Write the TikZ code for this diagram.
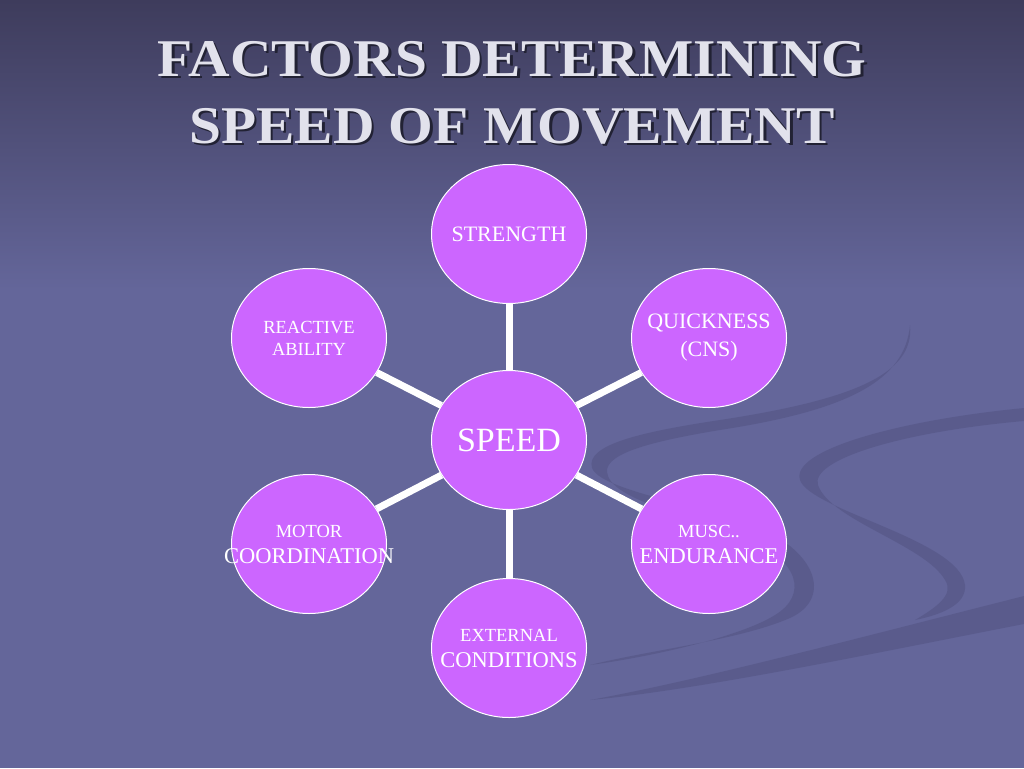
\documentclass[tikz,border=0pt]{standalone}
\usepackage{fontspec}
\setmainfont{Liberation Serif}
\newfontfamily\ttlfont[FakeStretch=1.085]{Liberation Serif}
\usetikzlibrary{shapes.geometric}

\definecolor{bgtop}{RGB}{62,60,92}
\definecolor{bgmain}{RGB}{100,102,154}
\definecolor{swirl}{RGB}{84,85,132}
\definecolor{blob}{RGB}{204,102,255}
\definecolor{ttlgray}{RGB}{226,226,236}
\definecolor{ttldark}{RGB}{34,34,52}

\newcommand{\smtxt}{\fontsize{18.5}{26}\selectfont}
\newcommand{\bigtxt}{\fontsize{22.5}{26}\selectfont}
\newcommand{\ctr}[1]{\makebox[0pt]{#1}}
\newcommand{\shd}[1]{\makebox[0pt][l]{\kern2.5pt\raisebox{-2.5pt}{\color{ttldark}#1}}#1}

\begin{document}
\begin{tikzpicture}[x=1pt, y=-1pt,
    factor/.style={ellipse, draw=white, line width=1pt, fill=blob, text=white, minimum width=155pt, minimum height=139pt, inner sep=0pt, align=center},
    spoke/.style={white, line width=7pt},
    band/.style={fill=swirl, opacity=0.6},
    ttl/.style={align=center, text=ttlgray, font=\ttlfont\bfseries\fontsize{53}{67}\selectfont}]
    %Background
    \fill[bgmain] (0, 0) rectangle (1024, 768);
    \shade[top color=bgtop, bottom color=bgmain] (0, 0) rectangle (1024, 290);
    \useasboundingbox (0, 0) rectangle (1024, 768);
    \fill[band] (910, 325) .. controls (915, 375) and (850, 400) .. (720, 420) .. controls (640, 432) and (585, 445) .. (592, 468) .. controls (600, 490) and (700, 505) .. (760, 528) .. controls (820, 555) and (830, 600) .. (790, 618) .. controls (740, 640) and (650, 650) .. (590, 665) .. controls (650, 657) and (740, 637) .. (775, 615) .. controls (808, 595) and (800, 560) .. (745, 538) .. controls (690, 515) and (610, 500) .. (607, 472) .. controls (605, 452) and (660, 440) .. (720, 430) .. controls (850, 410) and (905, 380) .. (910, 325) -- cycle;
    \fill[band] (1024, 408) .. controls (900, 420) and (790, 450) .. (800, 480) .. controls (810, 510) and (960, 540) .. (965, 585) .. controls (967, 605) and (940, 615) .. (915, 620) .. controls (935, 608) and (955, 595) .. (945, 580) .. controls (925, 545) and (830, 520) .. (818, 485) .. controls (810, 460) and (900, 432) .. (1024, 421) -- cycle;
    \fill[band] (1024, 596) .. controls (850, 640) and (700, 680) .. (590, 700) .. controls (700, 690) and (880, 652) .. (1024, 624) -- cycle;

    %Title
    \node[ttl] at (512, 94) (ttltext) {\shd{FACTORS DETERMINING}\\\shd{SPEED OF MOVEMENT}};

    %Nodes
    \node[factor, font=\fontsize{34}{40}\selectfont] at (509, 440) (speed) {\ctr{SPEED}};
    \node[factor, font=\fontsize{22}{28}\selectfont] at (509, 234) (strength) {\ctr{STRENGTH}};
    \node[factor, font=\fontsize{18.5}{22}\selectfont] at (309, 338) (reactive) {\ctr{REACTIVE}\\\ctr{ABILITY}};
    \node[factor, font=\fontsize{22}{28}\selectfont] at (709, 338) (quick) {\ctr{QUICKNESS}\\\ctr{(CNS)}};
    \node[factor, font=\smtxt] at (309, 544) (motor) {\ctr{MOTOR}\\\ctr{\bigtxt COORDINATION}};
    \node[factor, font=\smtxt] at (709, 544) (musc) {\ctr{MUSC..}\\\ctr{\bigtxt ENDURANCE}};
    \node[factor, font=\smtxt] at (509, 648) (extern) {\ctr{EXTERNAL}\\\ctr{\bigtxt CONDITIONS}};

    %Lines
    \draw[spoke] (speed) -- (strength);
    \draw[spoke] (speed) -- (reactive);
    \draw[spoke] (speed) -- (quick);
    \draw[spoke] (speed) -- (motor);
    \draw[spoke] (speed) -- (musc);
    \draw[spoke] (speed) -- (extern);
\end{tikzpicture}
\end{document}
